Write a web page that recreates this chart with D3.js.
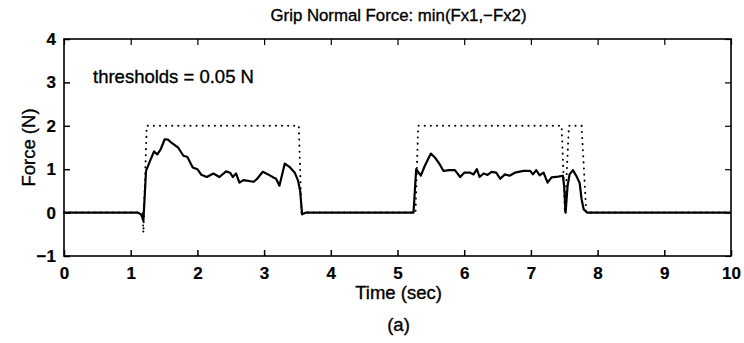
<!DOCTYPE html>
<html><head><meta charset="utf-8">
<script src="https://cdn.jsdelivr.net/npm/d3@7"></script>
<style>
html,body{margin:0;padding:0;background:#fff;}
svg text{font-family:"Liberation Sans",Arial,Helvetica,sans-serif;fill:#000;}
</style></head>
<body><svg id="c" width="744" height="343"></svg>
<script>
// ---- data ----
const titleText = "Grip Normal Force: min(Fx1,\u2212Fx2)";
const xLabel = "Time (sec)";
const yLabel = "Force (N)";
const caption = "(a)";
const note = "thresholds = 0.05 N";
const xTicks = [0,1,2,3,4,5,6,7,8,9,10];
const yTicks = [-1,0,1,2,3,4];
// measured grip force [time, force]
const forceSamples = [
 [0,0],[1.11,0],[1.16,-0.05],[1.19,-0.19],[1.23,0.96],[1.29,1.19],[1.35,1.41],[1.40,1.34],
 [1.45,1.46],[1.51,1.69],[1.56,1.68],[1.61,1.61],[1.71,1.50],[1.79,1.31],[1.85,1.28],
 [1.93,1.04],[2.00,1.00],[2.06,0.87],[2.14,0.82],[2.24,0.90],[2.33,0.82],[2.43,0.95],
 [2.49,0.92],[2.53,0.82],[2.58,0.90],[2.63,0.69],[2.69,0.75],[2.84,0.71],[2.89,0.77],
 [2.98,0.94],[3.06,0.88],[3.14,0.81],[3.18,0.78],[3.23,0.62],[3.31,1.13],[3.39,1.04],
 [3.46,0.92],[3.51,0.73],[3.54,0.50],[3.57,-0.04],[3.63,0],
 [5.24,0],[5.28,1.00],[5.35,0.85],[5.41,1.08],[5.50,1.36],[5.56,1.27],[5.63,1.12],
 [5.69,0.96],[5.78,0.98],[5.86,0.98],[5.94,0.82],[6.00,0.92],[6.09,0.92],[6.14,0.88],
 [6.19,1.00],[6.23,0.82],[6.29,0.90],[6.35,0.87],[6.41,0.94],[6.48,0.92],[6.54,0.78],
 [6.61,0.88],[6.68,0.85],[6.76,0.92],[6.89,0.96],[6.99,0.96],[7.03,0.88],[7.08,0.98],
 [7.13,0.86],[7.19,0.92],[7.25,0.69],[7.31,0.81],[7.41,0.83],[7.48,0.85],[7.50,0.58],
 [7.52,0.00],[7.55,0.62],[7.58,0.88],[7.63,0.98],[7.68,0.85],[7.73,0.69],[7.76,0.31],
 [7.79,0.08],[7.84,0],[10,0]
];
// grip state indicator (dotted) [time, value]
const gripState = [
 [0,0],[1.18,0],[1.19,-0.47],[1.24,2.0],[3.52,2.0],[3.56,0],
 [5.27,0],[5.31,2.0],[7.46,2.0],[7.51,0],[7.57,2.0],[7.76,2.0],[7.83,0],[10,0]
];

// ---- layout ----
const svg = d3.select("#c");
const L = 64, R = 731, T = 39, B = 256;
const x = d3.scaleLinear().domain([0,10]).range([L,R]);
const y = d3.scaleLinear().domain([-1,4]).range([B,T]);
const tk = 6;

const g = svg.append("g");
g.append("rect").attr("x",L).attr("y",T).attr("width",R-L).attr("height",B-T)
 .attr("fill","none").attr("stroke","#000").attr("stroke-width",1.6);

function styleTicks(sel, w){
  sel.select(".domain").remove();
  sel.selectAll("line").attr("stroke","#000").attr("stroke-width",w);
  sel.selectAll("text").attr("font-size",17).attr("font-weight","bold")
     .attr("stroke","#000").attr("stroke-width",0.2);
}
const axB = d3.axisBottom(x).tickValues(xTicks).tickSizeInner(-tk).tickSizeOuter(0).tickPadding(11);
styleTicks(g.append("g").attr("transform",`translate(0,${B})`).call(axB), 1.5);
const axT = d3.axisTop(x).tickValues(xTicks).tickSizeInner(-tk).tickSizeOuter(0).tickFormat("");
styleTicks(g.append("g").attr("transform",`translate(0,${T})`).call(axT), 1.2);
const axL = d3.axisLeft(y).tickValues(yTicks).tickSizeInner(-tk).tickSizeOuter(0).tickPadding(8)
 .tickFormat(d => d < 0 ? "\u2212" + Math.abs(d) : d);
styleTicks(g.append("g").attr("transform",`translate(${L},0)`).call(axL), 1.5);
const axR = d3.axisRight(y).tickValues(yTicks).tickSizeInner(-tk).tickSizeOuter(0).tickFormat("");
styleTicks(g.append("g").attr("transform",`translate(${R},0)`).call(axR), 1.2);

// lines
const line = d3.line().x(d => x(d[0])).y(d => y(d[1]));
g.append("path").datum(gripState).attr("d",line).attr("fill","none")
 .attr("stroke","#000").attr("stroke-width",2).attr("stroke-linecap","round")
 .attr("stroke-dasharray","0.1,6");
g.append("path").datum(forceSamples).attr("d",line).attr("fill","none")
 .attr("stroke","#000").attr("stroke-width",2.2).attr("stroke-linejoin","round");

// texts
function txt(xp, yp, size, s){
  return svg.append("text").attr("x",xp).attr("y",yp).attr("font-size",size)
    .attr("stroke","#000").attr("stroke-width",0.35).text(s);
}
txt((L+R)/2+1, 21, 16.8, titleText).attr("text-anchor","middle");
txt((L+R)/2+1, 299, 18.5, xLabel).attr("text-anchor","middle");
txt((L+R)/2+1, 331, 18.5, caption).attr("text-anchor","middle");
svg.append("text").attr("transform",`translate(35,${(T+B)/2}) rotate(-90)`).attr("text-anchor","middle")
 .attr("font-size",18.5).attr("stroke","#000").attr("stroke-width",0.35).text(yLabel);
txt(93, 83, 18.5, note);
</script></body></html>
